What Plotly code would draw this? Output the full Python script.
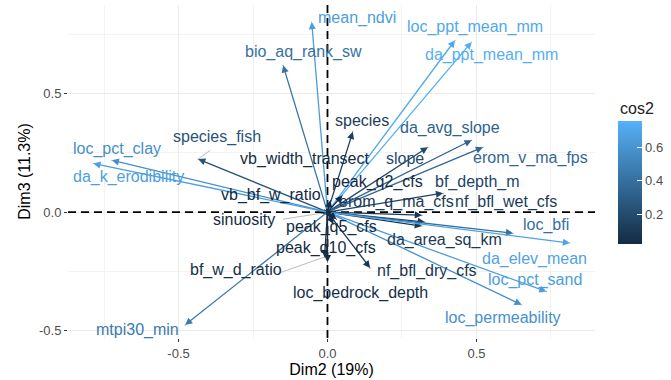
import plotly.graph_objects as go

# ---- data (Dim2, Dim3 coordinates and cos2) ----
variables = ["mean_ndvi", "loc_ppt_mean_mm", "da_ppt_mean_mm", "bio_aq_rank_sw", "species",
             "slope", "da_avg_slope", "erom_v_ma_fps", "bf_depth_m", "peak_q2_cfs",
             "erom_q_ma_cfs", "nf_bfl_wet_cfs", "da_area_sq_km", "loc_bfi", "da_elev_mean",
             "loc_pct_sand", "loc_permeability", "nf_bfl_dry_cfs", "loc_bedrock_depth",
             "bf_w_d_ratio", "peak_q5_cfs", "peak_q10_cfs", "sinuosity", "vb_bf_w_ratio",
             "vb_width_transect", "species_fish", "loc_pct_clay", "da_k_erodibility", "mtpi30_min"]
dim2 = [-0.053, 0.428, 0.484, -0.149, 0.085,
        0.337, 0.484, 0.522, 0.388, 0.050,
        0.317, 0.327, 0.317, 0.623, 0.814,
        0.735, 0.652, 0.143, 0.000,
        -0.010, 0.030, 0.020, -0.020, -0.010,
        0.010, -0.434, -0.724, -0.786, -0.478]
dim3 = [0.803, 0.726, 0.719, 0.620, 0.339,
        0.274, 0.304, 0.274, 0.080, 0.070,
        -0.013, -0.042, -0.059, -0.089, -0.131,
        -0.336, -0.392, -0.236, -0.211,
        -0.190, -0.030, -0.050, -0.005, 0.010,
        0.050, 0.224, 0.219, 0.205, -0.477]
cos2 = [0.65, 0.71, 0.75, 0.41, 0.12,
        0.19, 0.33, 0.35, 0.16, 0.02,
        0.10, 0.11, 0.10, 0.40, 0.68,
        0.65, 0.58, 0.08, 0.04,
        0.04, 0.02, 0.02, 0.02, 0.02,
        0.03, 0.24, 0.57, 0.66, 0.46]
colorbar_ticks = [0.2, 0.4, 0.6]

# repelled label positions (layout, data units)
label_x = [0.099, 0.495, 0.552, -0.082, 0.116,
           0.260, 0.411, 0.680, 0.502, 0.169,
           0.233, 0.599, 0.394, 0.732, 0.696,
           0.696, 0.589, 0.334, 0.112,
           -0.307, 0.012, -0.005, -0.280, -0.190,
           -0.076, -0.371, -0.705, -0.669, -0.638]
label_y = [0.819, 0.781, 0.662, 0.675, 0.388,
           0.228, 0.354, 0.228, 0.127, 0.127,
           0.042, 0.042, -0.118, -0.055, -0.198,
           -0.287, -0.447, -0.249, -0.342,
           -0.245, -0.063, -0.152, -0.030, 0.072,
           0.224, 0.316, 0.266, 0.148, -0.498]

# offsets (data units) from label centre to where its leader segment starts
seg_offsets = {"species_fish": (-0.023, -0.055), "sinuosity": (0.13, 0.0),
               "bf_w_d_ratio": (0.15, -0.01)}

CMIN, CMAX = 0.02, 0.76
LOW = (19, 43, 67)
HIGH = (86, 177, 247)


def col(v):
    t = max(0.0, min(1.0, (v - CMIN) / (CMAX - CMIN)))
    r, g, b = (round(LOW[i] + (HIGH[i] - LOW[i]) * t) for i in range(3))
    return f"rgb({r},{g},{b})"


fig = go.Figure()

# colour bar carrier
fig.add_trace(go.Scatter(
    x=dim2, y=dim3, mode="markers", hoverinfo="skip", showlegend=False,
    marker=dict(size=1, color=cos2, cmin=CMIN, cmax=CMAX,
                colorscale=[[0, "#132B43"], [1, "#56B1F7"]],
                showscale=True,
                colorbar=dict(xref="container", x=618 / 671, xanchor="left", xpad=0,
                              yref="container", y=1 - 138 / 380, yanchor="top", ypad=0,
                              lenmode="pixels", len=123, thickness=24,
                              outlinewidth=0, ticks="inside", ticklen=5, tickcolor="white",
                              tickvals=colorbar_ticks,
                              ticktext=[f"{v:.1f}" for v in colorbar_ticks],
                              tickfont=dict(size=13, color="#4D4D4D")))))

# label-to-point leader segments for a few labels
for n, (dx, dy) in seg_offsets.items():
    i = variables.index(n)
    fig.add_trace(go.Scatter(x=[label_x[i] + dx, dim2[i]],
                             y=[label_y[i] + dy, dim3[i]],
                             mode="lines", line=dict(color="#BDBDBD", width=1),
                             hoverinfo="skip", showlegend=False))

annotations = []
for i, n in enumerate(variables):
    c = col(cos2[i])
    annotations.append(dict(x=dim2[i], y=dim3[i], ax=0, ay=0, xref="x", yref="y",
                            axref="x", ayref="y", text="", showarrow=True,
                            arrowhead=2, arrowsize=1.1, arrowwidth=1.3, arrowcolor=c,
                            standoff=0))
for i, n in enumerate(variables):
    c = col(cos2[i])
    annotations.append(dict(x=label_x[i], y=label_y[i], xref="x", yref="y", text=n,
                            showarrow=False, font=dict(size=16, color=c,
                                                       family="Liberation Sans, Arial, sans-serif")))
# legend title
annotations.append(dict(x=(618 - 68) / 527, y=(338 - 108) / 333, xref="paper", yref="paper",
                        xanchor="left", yanchor="middle", text="cos2", showarrow=False,
                        font=dict(size=16, color="#222222")))

shapes = [
    dict(type="line", xref="x", yref="paper", x0=0, x1=0, y0=0, y1=1,
         line=dict(color="black", width=1.8, dash="8px,5px"), layer="above"),
    dict(type="line", xref="paper", yref="y", x0=0, x1=1, y0=0, y1=0,
         line=dict(color="black", width=1.8, dash="8px,5px"), layer="above"),
]

fig.update_layout(
    width=671, height=380,
    margin=dict(l=68, r=76, t=5, b=42, autoexpand=False),
    paper_bgcolor="white", plot_bgcolor="white",
    font=dict(family="Liberation Sans, Arial, sans-serif"),
    showlegend=False,
    annotations=annotations, shapes=shapes,
    xaxis=dict(range=[-0.871, 0.898], tickvals=[-0.5, 0, 0.5], ticktext=["-0.5", "0.0", "0.5"],
               showgrid=True, gridcolor="#EBEBEB", gridwidth=1, zeroline=False,
               minor=dict(tickvals=[-0.75, -0.25, 0.25, 0.75], showgrid=True,
                          gridcolor="#F3F3F3", gridwidth=0.8),
               ticks="outside", ticklen=3, tickcolor="#333333",
               tickfont=dict(size=13, color="#4D4D4D"), automargin=False,
               title=dict(text="Dim2 (19%)", font=dict(size=16, color="black"), standoff=4)),
    yaxis=dict(range=[-0.532, 0.875], tickvals=[-0.5, 0, 0.5], ticktext=["-0.5", "0.0", "0.5"],
               showgrid=True, gridcolor="#EBEBEB", gridwidth=1, zeroline=False,
               minor=dict(tickvals=[-0.25, 0.25, 0.75], showgrid=True,
                          gridcolor="#F3F3F3", gridwidth=0.8),
               ticks="outside", ticklen=3, tickcolor="#333333",
               tickfont=dict(size=13, color="#4D4D4D"), automargin=False,
               title=dict(text="Dim3 (11.3%)", font=dict(size=16, color="black"), standoff=4)),
)

fig.write_html("out.html", config={"displayModeBar": False},
               post_script="document.body.style.margin='0';")
